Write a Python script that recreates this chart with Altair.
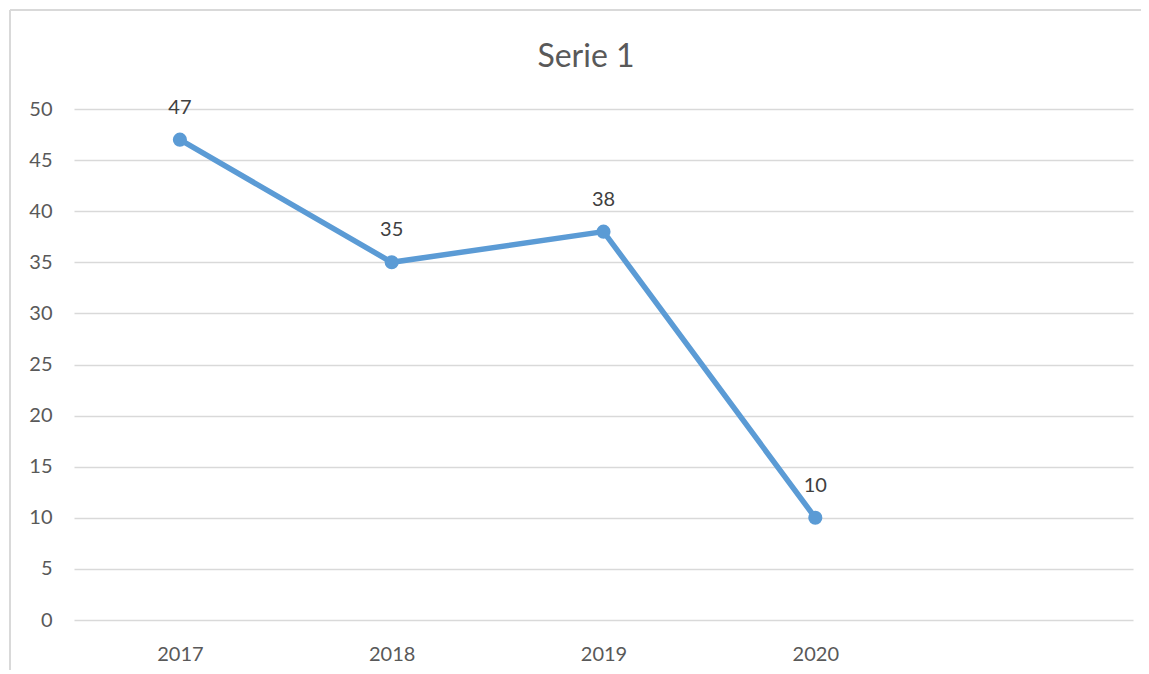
import altair as alt
import pandas as pd

years = ["2017", "2018", "2019", "2020"]
values = [47, 35, 38, 10]
x_domain = ["2017", "2018", "2019", "2020", " "]
y_ticks = [0, 5, 10, 15, 20, 25, 30, 35, 40, 45, 50]
title_text = ["Serie 1"]

df = pd.DataFrame({"year": years, "value": values})
tdf = pd.DataFrame({"t": title_text})

FONT = "Lato"
GRAY = "#595959"
BLUE = "#5B9BD5"

x = alt.X("year:O", scale=alt.Scale(type="point", domain=x_domain, padding=0.5),
          axis=alt.Axis(title=None, labelAngle=0, domain=False, ticks=False, grid=False,
                        labelPadding=24, labelFontSize=20, labelColor=GRAY, labelFont=FONT))
y = alt.Y("value:Q", scale=alt.Scale(domain=[0, 50], nice=False),
          axis=alt.Axis(title=None, values=y_ticks, domain=False, ticks=False, grid=True,
                        gridColor="#d9d9d9", gridWidth=1.3, labelPadding=22,
                        labelFontSize=20, labelColor=GRAY, labelFont=FONT))

base = alt.Chart(df)
line = base.mark_line(color=BLUE, strokeWidth=5.5).encode(x=x, y=y)
pts = base.mark_point(filled=True, color=BLUE, size=200, opacity=1).encode(x=x, y=y)
labels = base.mark_text(dy=-32, baseline="middle", align="center", fontSize=20,
                        color="#404040", font=FONT).encode(x=x, y=y, text="value:Q")

border_left = alt.Chart(df).mark_rule(color="#d9d9d9", strokeWidth=1.5, clip=False).encode(
    x=alt.value(-64), y=alt.value(-99), y2=alt.value(600))
border_top = alt.Chart(df).mark_rule(color="#d9d9d9", strokeWidth=1.5, clip=False).encode(
    x=alt.value(-64), x2=alt.value(1120), y=alt.value(-99))

title = alt.Chart(tdf).mark_text(fontSize=32, font=FONT, color=GRAY, baseline="middle",
                                 align="center").encode(
    x=alt.value(512), y=alt.value(-52), text="t:N")

chart = alt.layer(border_left, border_top, line, pts, labels, title).properties(
    width=1059, height=511,
    autosize=alt.AutoSizeParams(type="none"),
    padding={"left": 66, "top": 101, "right": 8, "bottom": 50},
).configure_view(stroke=None)

chart.save("out.html", embed_options={"renderer": "svg", "actions": False})
